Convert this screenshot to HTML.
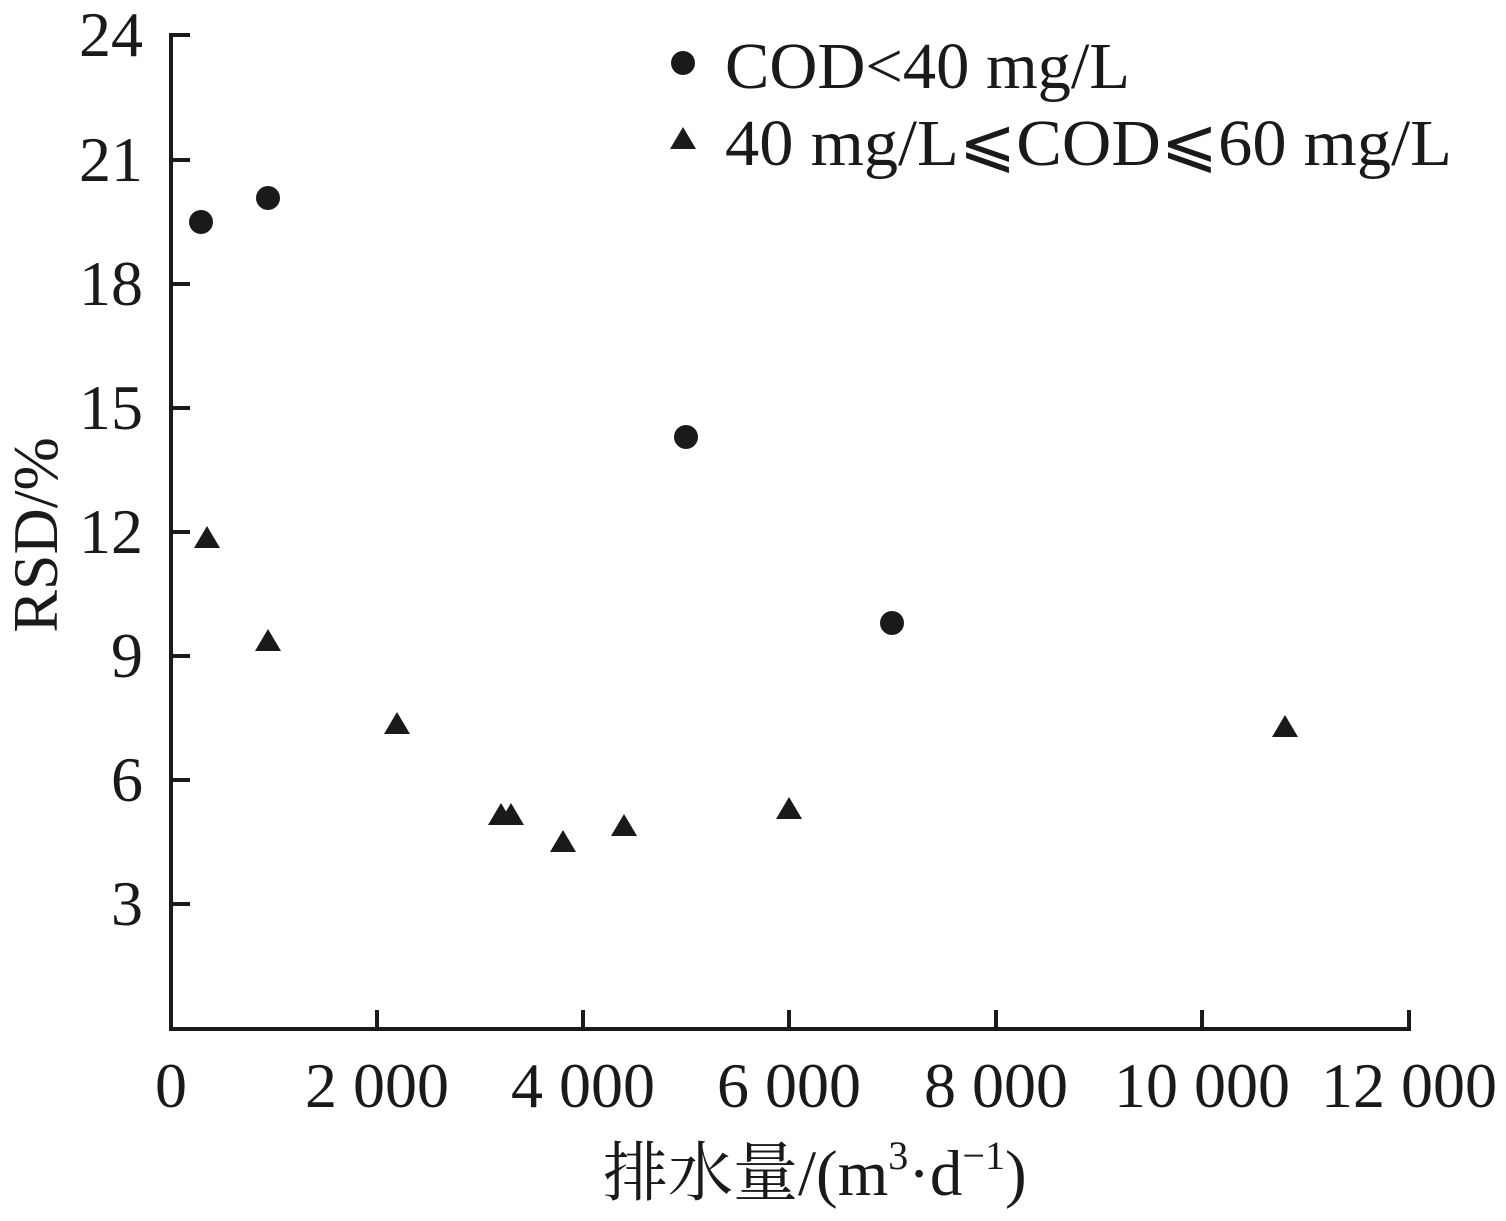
<!DOCTYPE html>
<html><head><meta charset="utf-8"><style>body{margin:0;background:#fff}</style></head><body>
<svg width="1506" height="1216" xmlns="http://www.w3.org/2000/svg" font-family="'Liberation Serif','Noto Serif CJK SC',serif" fill="#1a1a1a">
<g stroke="#1a1a1a" stroke-width="4" fill="none">
<path d="M190,35 H171 V1029 H1409 V1010"/>
<path d="M171,160H190M171,284H190M171,408H190M171,532H190M171,656H190M171,780H190M171,904H190"/>
<path d="M377,1029V1010M583,1029V1010M789,1029V1010M996,1029V1010M1202,1029V1010"/>
</g>
<g font-size="64" text-anchor="end">
<text x="143" y="56">24</text><text x="143" y="181">21</text><text x="143" y="305">18</text><text x="143" y="429">15</text><text x="143" y="553">12</text><text x="143" y="677">9</text><text x="143" y="801">6</text><text x="143" y="925">3</text>
</g>
<g font-size="64" text-anchor="middle">
<text x="171" y="1107">0</text><text x="377" y="1107">2 000</text><text x="583" y="1107">4 000</text><text x="789" y="1107">6 000</text><text x="996" y="1107">8 000</text><text x="1202" y="1107">10 000</text><text x="1409" y="1107">12 000</text>
</g>
<text font-size="64" text-anchor="middle" transform="translate(57,535) rotate(-90)">RSD/%</text>
<text font-size="65" x="603" y="1195">排水量/(m<tspan font-size="40" dy="-26">3</tspan><tspan dy="26">·d</tspan><tspan font-size="40" dy="-26">−1</tspan><tspan dy="26">)</tspan></text>
<g>
<circle cx="201" cy="222" r="12"/><circle cx="268" cy="198" r="12"/><circle cx="686" cy="437" r="12"/><circle cx="892" cy="623" r="12"/>
<circle cx="683" cy="63" r="12"/>
</g>
<g>
<polygon points="207,526 194,548 220,548"/><polygon points="268,629 255,651 281,651"/><polygon points="397,712 384,734 410,734"/><polygon points="501,803 488,825 514,825"/><polygon points="511,803 498,825 524,825"/><polygon points="563,830 550,852 576,852"/><polygon points="624,814 611,836 637,836"/><polygon points="789,797 776,819 802,819"/><polygon points="1285,715 1272,737 1298,737"/>
<polygon points="683,127 670,149 696,149"/>
</g>
<text font-size="66" x="725" y="88" textLength="405" lengthAdjust="spacingAndGlyphs">COD&lt;40 mg/L</text>
<text font-size="66" x="725" y="165" textLength="727" lengthAdjust="spacingAndGlyphs">40 mg/L⩽COD⩽60 mg/L</text>
</svg>
</body></html>
